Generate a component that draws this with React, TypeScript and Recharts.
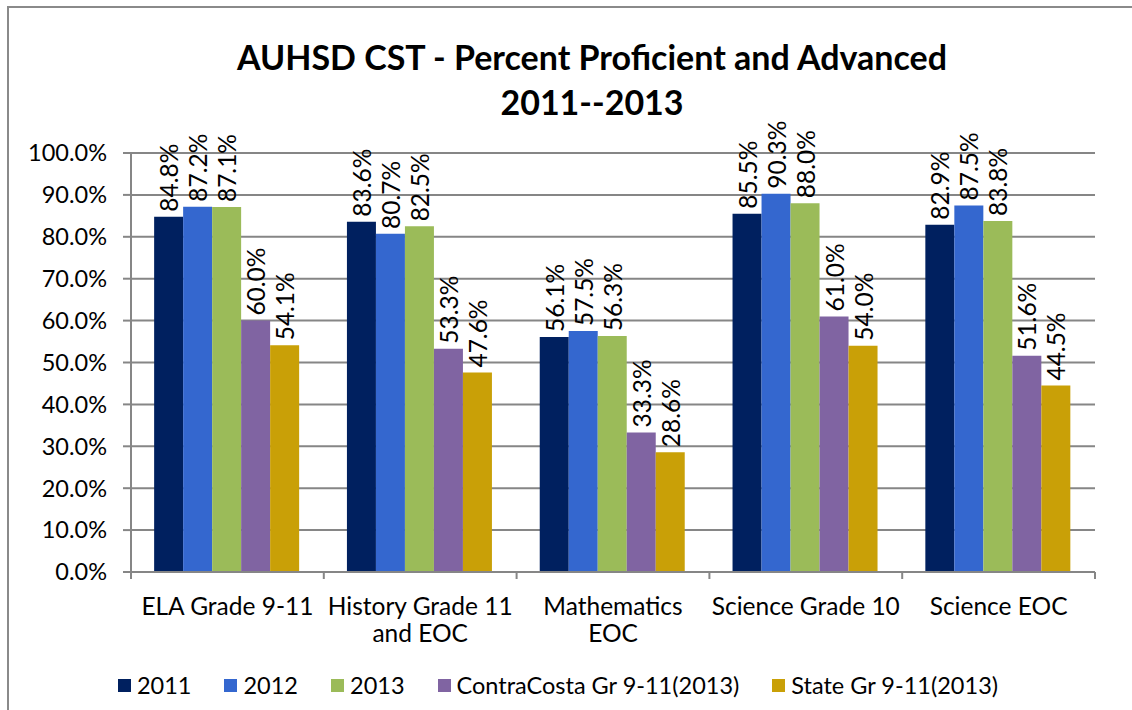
import { BarChart, Bar, XAxis, YAxis, CartesianGrid, LabelList } from "recharts";

const CATEGORIES = [
  "ELA Grade 9-11",
  "History Grade 11 and EOC",
  "Mathematics EOC",
  "Science Grade 10",
  "Science EOC",
];
// how each category label wraps under the axis
const CATEGORY_LINES = [
  ["ELA Grade 9-11"],
  ["History Grade 11", "and EOC"],
  ["Mathematics", "EOC"],
  ["Science Grade 10"],
  ["Science EOC"],
];
const SERIES_NAMES = ["2011", "2012", "2013", "ContraCosta Gr 9-11(2013)", "State Gr 9-11(2013)"];
const Y2011 = [84.8, 83.6, 56.1, 85.5, 82.9];
const Y2012 = [87.2, 80.7, 57.5, 90.3, 87.5];
const Y2013 = [87.1, 82.5, 56.3, 88.0, 83.8];
const CONTRA_COSTA = [60.0, 53.3, 33.3, 61.0, 51.6];
const STATE = [54.1, 47.6, 28.6, 54.0, 44.5];
const Y_TICKS = [0, 10, 20, 30, 40, 50, 60, 70, 80, 90, 100];

const COLORS = ["#00205F", "#3467CF", "#9BBB59", "#8064A2", "#C9A007"];
const AXIS_COLOR = "#868686";
const FONT = "Lato, 'Open Sans', sans-serif";

const SERIES = [Y2011, Y2012, Y2013, CONTRA_COSTA, STATE];
const data = CATEGORIES.map((name, i) => {
  const row: Record<string, string | number> = { name, idx: i };
  SERIES.forEach((s, k) => {
    row[`s${k}`] = s[i];
  });
  return row;
});

const PLOT_LEFT = 131;
const PLOT_RIGHT = 1095;
const BAND = (PLOT_RIGHT - PLOT_LEFT) / CATEGORIES.length;

function CategoryTick(props: any) {
  const { x, y, payload } = props;
  const lines = CATEGORY_LINES[payload.index] ?? [payload.value];
  return (
    <g>
      <line x1={x - BAND / 2} x2={x - BAND / 2} y1={y} y2={y + 7} stroke={AXIS_COLOR} strokeWidth={2} />
      {payload.index === CATEGORIES.length - 1 && (
        <line x1={x + BAND / 2} x2={x + BAND / 2} y1={y} y2={y + 7} stroke={AXIS_COLOR} strokeWidth={2} />
      )}
      <text x={x} y={y + 33} textAnchor="middle" fontFamily={FONT} fontSize={24.5} fill="#000">
        {lines.map((l: string, i: number) => (
          <tspan key={i} x={x} dy={i === 0 ? 0 : 27} dominantBaseline="central">
            {l}
          </tspan>
        ))}
      </text>
    </g>
  );
}

function VerticalLabel(props: any) {
  const { x, y, width, value } = props;
  const cx = x + width / 2;
  const ty = y - 5;
  return (
    <text
      x={cx}
      y={ty}
      transform={`rotate(-90, ${cx}, ${ty})`}
      textAnchor="start"
      dominantBaseline="central"
      fontFamily={FONT}
      fontSize={24.5}
      fill="#000"
    >
      {`${Number(value).toFixed(1)}%`}
    </text>
  );
}

export default function App() {
  return (
    <div
      style={{
        position: "fixed",
        left: 0,
        top: 0,
        width: 1132,
        height: 710,
        overflow: "hidden",
        background: "#fff",
        fontFamily: FONT,
      }}
    >
      <div
        style={{
          position: "absolute",
          left: 7,
          top: 6,
          width: 1140,
          height: 720,
          border: "2px solid #8a8a8a",
          boxSizing: "border-box",
        }}
      />
      <div
        style={{
          position: "absolute",
          left: 92,
          top: 34,
          width: 1000,
          textAlign: "center",
          fontWeight: 700,
          fontSize: 34,
          lineHeight: "45px",
          color: "#000",
        }}
      >
        AUHSD CST - Percent Proficient and Advanced
        <br />
        2011--2013
      </div>
      <div style={{ position: "absolute", left: 0, top: 0 }}>
        <BarChart
          width={1132}
          height={710}
          data={data}
          margin={{ top: 153, right: 1132 - PLOT_RIGHT, bottom: 78, left: 0 }}
          barCategoryGap="12%"
          barGap={0}
        >
          <CartesianGrid vertical={false} stroke={AXIS_COLOR} strokeWidth={2} />
          <YAxis
            width={PLOT_LEFT}
            domain={[0, 100]}
            ticks={Y_TICKS}
            tickFormatter={(v: number) => `${v.toFixed(1)}%`}
            tick={{ fill: "#000", fontSize: 23.5, fontFamily: FONT }}
            axisLine={{ stroke: AXIS_COLOR, strokeWidth: 2 }}
            tickLine={{ stroke: AXIS_COLOR, strokeWidth: 2 }}
            tickSize={8}
            tickMargin={16}
            interval={0}
          />
          <XAxis
            dataKey="name"
            height={60}
            interval={0}
            tick={<CategoryTick />}
            tickLine={false}
            tickSize={0}
            tickMargin={0}
            axisLine={{ stroke: AXIS_COLOR, strokeWidth: 2 }}
          />
          {SERIES_NAMES.map((name, k) => (
            <Bar key={name} dataKey={`s${k}`} name={name} fill={COLORS[k]} isAnimationActive={false}>
              <LabelList dataKey={`s${k}`} content={<VerticalLabel />} />
            </Bar>
          ))}
        </BarChart>
      </div>
      <div
        style={{
          position: "absolute",
          left: 0,
          top: 671,
          width: 1116,
          display: "flex",
          justifyContent: "center",
          alignItems: "center",
          gap: 33,
          fontSize: 23.5,
          color: "#000",
        }}
      >
        {SERIES_NAMES.map((name, k) => (
          <div key={name} style={{ display: "flex", alignItems: "center", gap: 6 }}>
            <span style={{ display: "inline-block", width: 13, height: 13, background: COLORS[k] }} />
            <span>{name}</span>
          </div>
        ))}
      </div>
    </div>
  );
}
